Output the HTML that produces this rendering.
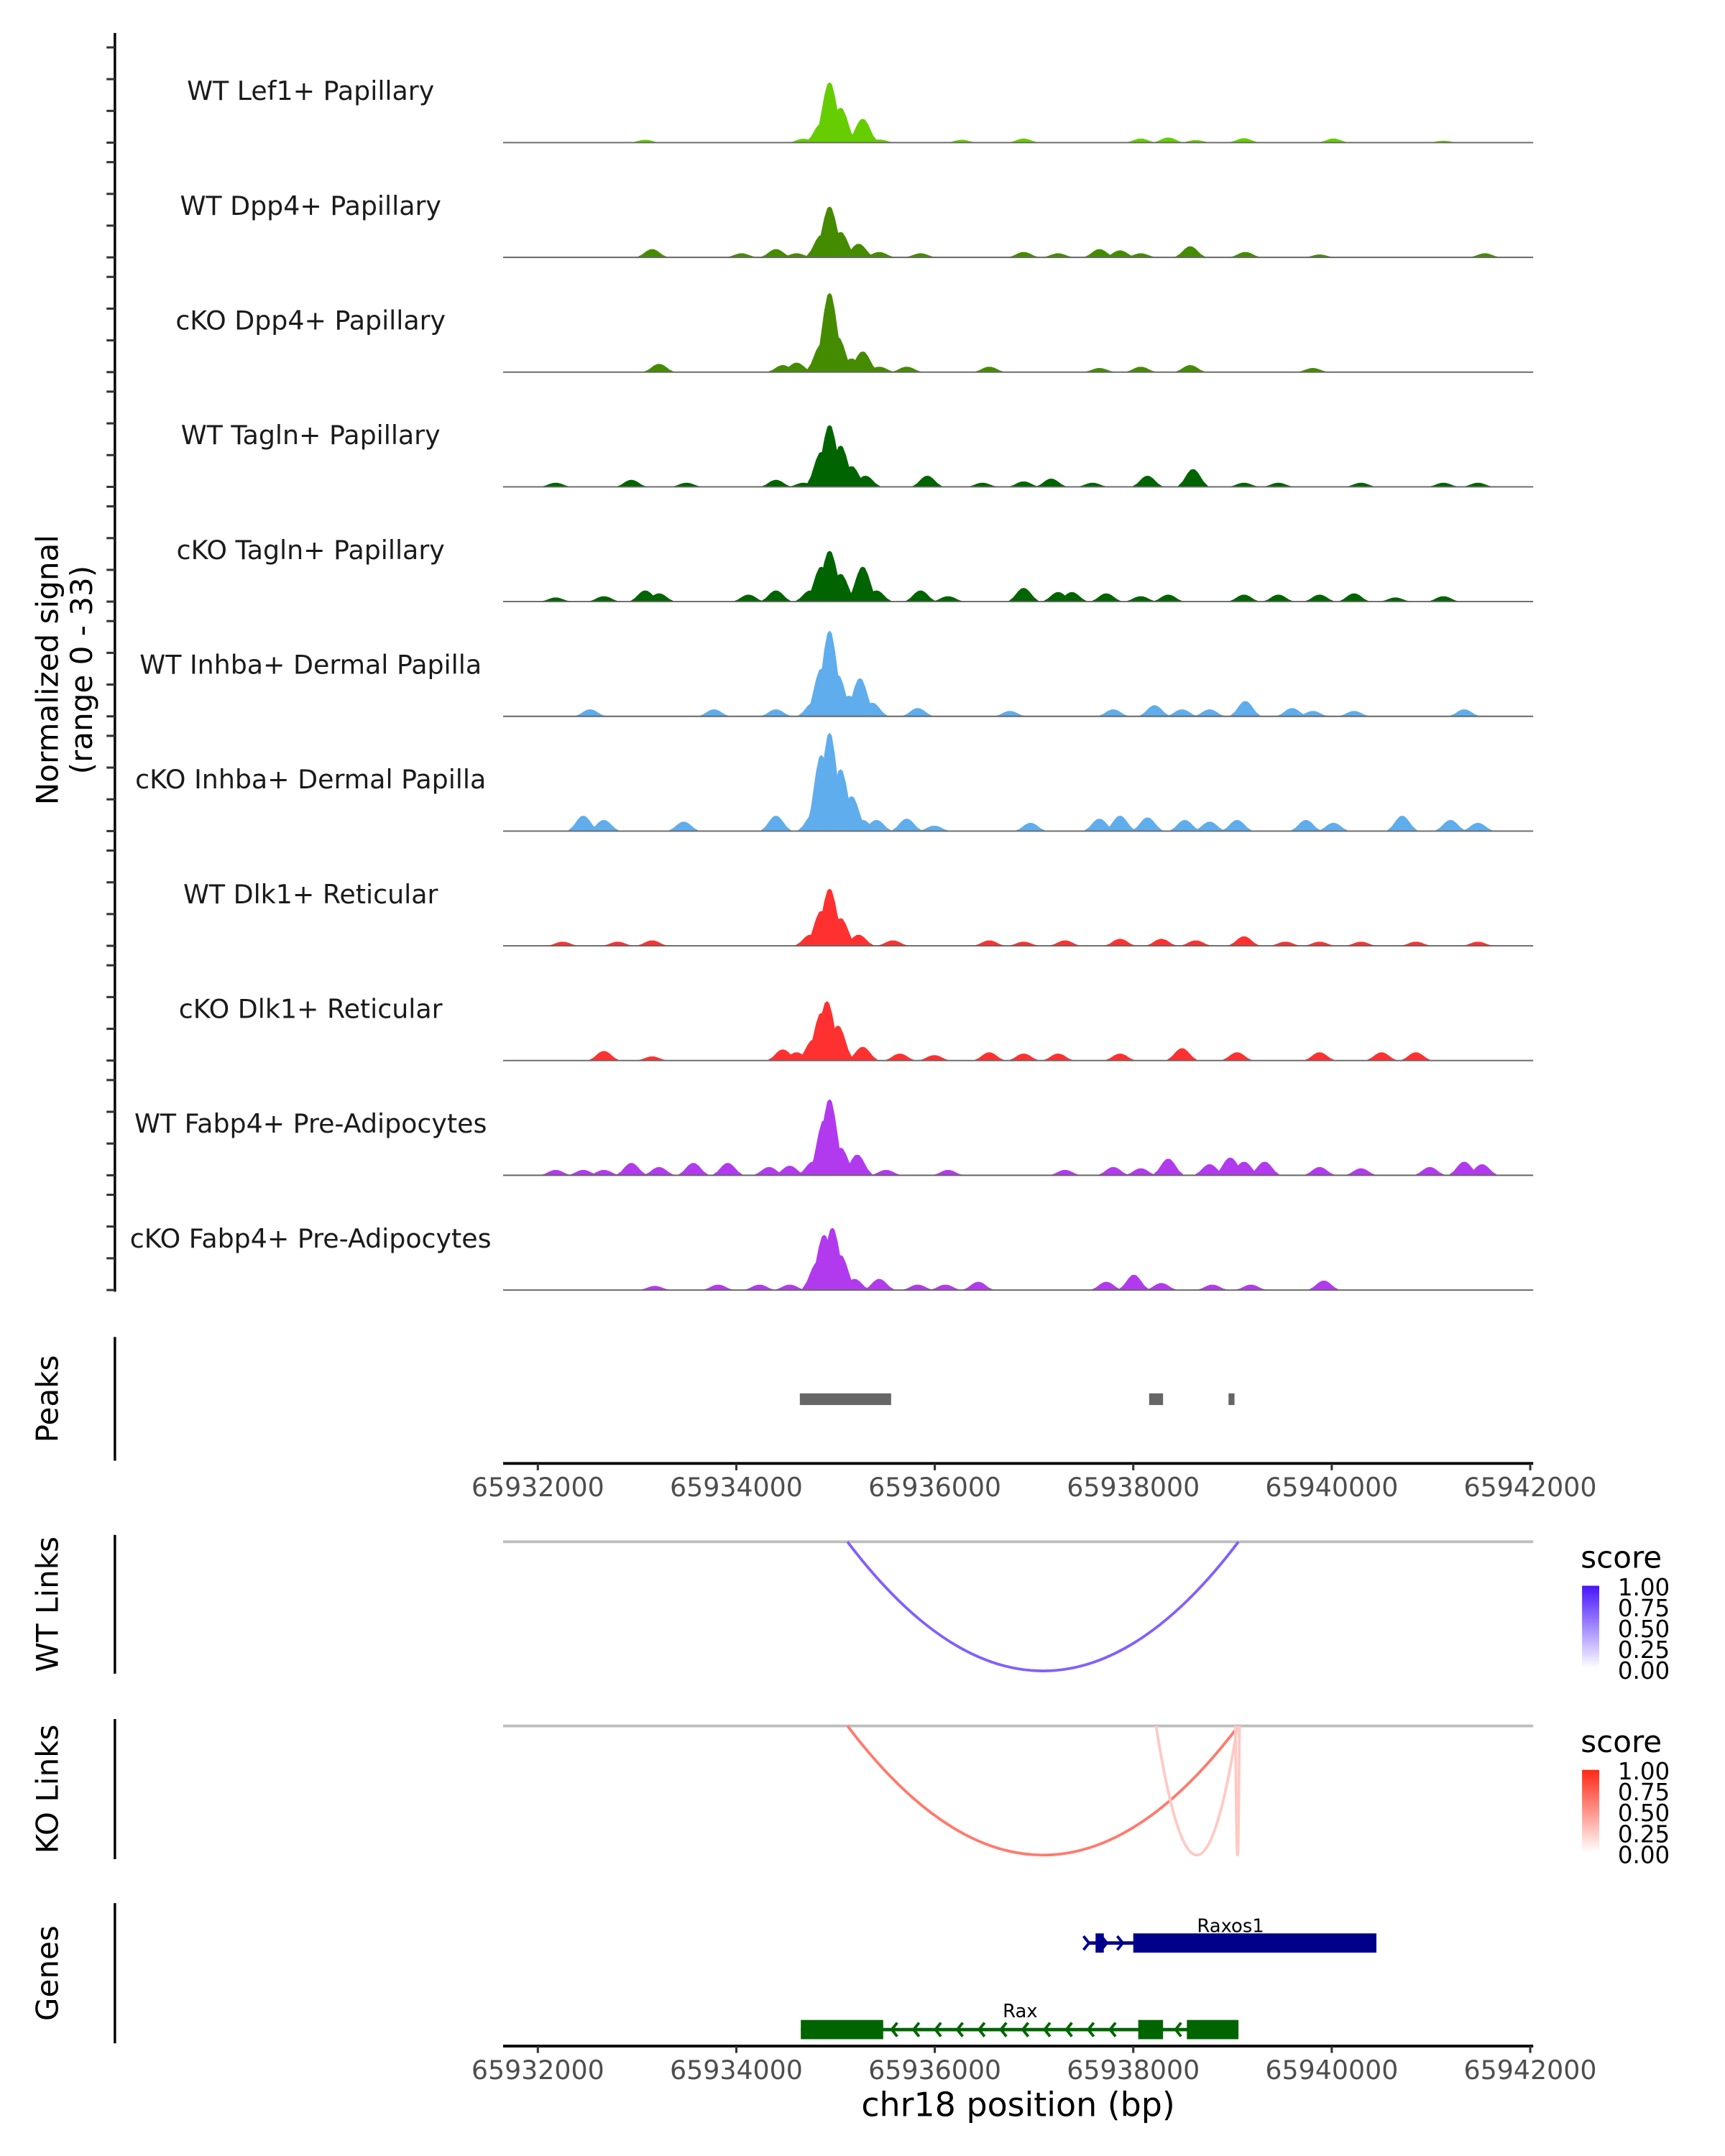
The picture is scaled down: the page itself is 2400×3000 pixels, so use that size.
<!DOCTYPE html>
<html><head><meta charset="utf-8">
<style>
html,body{margin:0;padding:0;background:#fff;}
svg{display:block;}
text{font-family:"DejaVu Sans","Liberation Sans",sans-serif;}
</style></head>
<body>
<svg id="chart" xmlns="http://www.w3.org/2000/svg" width="2400" height="3000" viewBox="0 0 1255 1569" preserveAspectRatio="none">
</svg>
<script>
// ---- data ----
const regionStart = 65931650, regionEnd = 65942030;
const xTicks = [65932000, 65934000, 65936000, 65938000, 65940000, 65942000];
const trackNames = ["WT Lef1+ Papillary","WT Dpp4+ Papillary","cKO Dpp4+ Papillary","WT Tagln+ Papillary","cKO Tagln+ Papillary","WT Inhba+ Dermal Papilla","cKO Inhba+ Dermal Papilla","WT Dlk1+ Reticular","cKO Dlk1+ Reticular","WT Fabp4+ Pre-Adipocytes","cKO Fabp4+ Pre-Adipocytes"];
const signalTicks = [0, 10, 20, 30];
// bump centers: bp offset from 65932000; values: normalized signal
const lef1Pos = [1082,2677,2857,2940,3051,3273,3440,4272,4896,6075,6352,6630,7115,8017,9126];
const lef1Val = [0.9,1.2,6,19,11,7.5,1,0.9,1.3,1.3,1.6,0.8,1.4,1.3,0.6];
const wtDpp4Pos = [1151,2053,2400,2608,2857,2940,3051,3232,3440,3856,4896,5243,5659,5867,6075,6574,7129,7878,9543];
const wtDpp4Val = [2.6,1.3,2.6,1.3,7,16,8,4.3,1.7,1.3,1.7,1.3,2.6,2.2,1.3,3.5,1.7,0.9,1.3];
const koDpp4Pos = [1221,2469,2608,2857,2940,3024,3162,3273,3440,3717,4549,5659,6075,6574,7809];
const koDpp4Val = [2.6,2.2,3,8.7,25,11,4.3,6.5,1.7,1.7,1.7,1.3,1.7,2.2,1.3];
const wtTaglnPos = [180,943,1498,2400,2677,2857,2940,3051,3162,3301,3925,4480,4896,5173,5590,6144,6602,7115,7462,8294,9126,9473];
const wtTaglnVal = [1.3,2.2,1.3,2.2,1.3,11,19.5,13,6.5,3.5,3.5,1.3,1.7,2.6,1.3,3.5,5.6,1.3,1.3,1.3,1.3,1.3];
const koTaglnPos = [180,666,1082,1221,2122,2400,2746,2857,2940,3051,3273,3412,3856,4133,4896,5243,5382,5728,6075,6352,7115,7462,7878,8225,8641,9126];
const koTaglnVal = [1.3,1.7,3.5,2.6,2.2,3.5,3.5,11,16,8.7,11,3.5,3.5,1.7,4.3,3,3,2.6,1.7,2.2,2.2,2.2,2.2,2.6,1.3,1.7];
const wtInhbaPos = [527,1775,2400,2774,2857,2940,3024,3135,3246,3370,3828,4757,5798,6214,6491,6769,7129,7601,7809,8225,9335];
const wtInhbaVal = [2.2,2.2,2.2,4.3,15,27,13,6.5,12,4.3,2.6,1.7,2.2,3.5,2.2,2.2,4.8,2.6,1.7,1.7,2.2];
const koInhbaPos = [458,666,1470,2400,2774,2857,2940,3051,3162,3273,3412,3717,3995,4965,5659,5867,6144,6519,6769,7046,7740,8017,8710,9196,9473];
const koInhbaVal = [4.8,3.5,3,4.8,5.2,24,31,19.5,11,3.5,3.5,3.9,1.7,2.6,3.9,4.8,4.3,3.5,3,3.5,3.5,2.6,4.8,3.5,2.6];
const wtDlk1Pos = [250,805,1151,2746,2857,2940,3051,3232,3578,4549,4896,5312,5867,6283,6630,7115,7532,7878,8294,8849,9473];
const wtDlk1Val = [1.3,1.3,1.7,3.5,11,18,8.7,3.5,1.7,1.7,1.3,1.7,2.2,2.2,1.7,3,1.3,1.3,1.3,1.3,1.3];
const koDlk1Pos = [666,1151,2469,2608,2774,2857,2913,3024,3273,3648,3995,4549,4896,5243,5867,6491,7046,7878,8502,8849];
const koDlk1Val = [3,1.3,3.5,2.6,6.5,15,18.7,11,4.3,2.2,1.7,2.6,2.2,2.2,2.2,3.9,2.6,2.6,2.6,2.6];
const wtFabp4Pos = [180,458,666,943,1221,1567,1914,2330,2538,2774,2885,2940,3051,3218,3509,4133,5312,5798,6075,6352,6769,6977,7115,7323,7878,8294,8988,9335,9515];
const wtFabp4Val = [1.7,1.7,1.7,3.9,2.6,3.9,3.9,2.6,3,4.3,17.4,24,8.7,6.5,1.7,1.7,1.7,2.6,2.2,5.2,3.5,5.6,4.3,4.3,2.6,2.2,2.6,4.3,3.5];
const koFabp4Pos = [1179,1817,2233,2538,2816,2885,2968,3051,3190,3440,3828,4106,4438,5728,6006,6283,6797,7185,7920];
const koFabp4Val = [1.3,1.7,1.7,1.7,8.7,17.4,19.6,11,3.5,3.5,1.7,1.7,2.6,2.6,4.8,2.2,1.7,1.7,3];
const peakStarts = [65934640, 65938160, 65938960];
const peakEnds = [65935560, 65938300, 65939020];
const wtLinkStart = [65935120], wtLinkEnd = [65939060], wtLinkScore = [0.68];
const koLinkStart = [65935120, 65938230, 65939030], koLinkEnd = [65939060, 65939050, 65939070], koLinkScore = [0.62, 0.25, 0.25];
const legendTicks = ["1.00","0.75","0.50","0.25","0.00"];

// ---- scales / layout ----
const X0 = 391.3, PXBP = 0.0722;
function xs(bp){ return X0 + (bp - 65932000) * PXBP; }
const trackLeft = xs(regionStart), trackRight = xs(regionEnd);
const baselines = [103.8,187.3,270.8,354.3,437.8,521.3,604.8,688.3,771.8,855.3,938.8];
const PXV = 2.31;
function ys(base, v){ return base - v * PXV; }

const svg = document.getElementById('chart');
const NS = 'http://www.w3.org/2000/svg';
function mk(tag, attrs, parent){ const e = document.createElementNS(NS, tag); for (const k in attrs) e.setAttribute(k, attrs[k]); (parent||svg).appendChild(e); return e; }

const tracks = [
 [lef1Pos, lef1Val, '#66CD00'], [wtDpp4Pos, wtDpp4Val, '#458B00'], [koDpp4Pos, koDpp4Val, '#458B00'],
 [wtTaglnPos, wtTaglnVal, '#006400'], [koTaglnPos, koTaglnVal, '#006400'],
 [wtInhbaPos, wtInhbaVal, '#5FADEC'], [koInhbaPos, koInhbaVal, '#5FADEC'],
 [wtDlk1Pos, wtDlk1Val, '#FF3030'], [koDlk1Pos, koDlk1Val, '#FF3030'],
 [wtFabp4Pos, wtFabp4Val, '#B23AEE'], [koFabp4Pos, koFabp4Val, '#B23AEE']
];
const BW = 320;

const ax = mk('line', {x1:83.6, y1:24, x2:83.6, y2:940, stroke:'#000', 'stroke-width':1.8});


const yt = mk('text', {transform:'translate(42,487.5) rotate(-90)', 'text-anchor':'middle', 'font-size':22, fill:'#000'});


yt.textContent = 'Normalized signal';
const yt2 = mk('text', {transform:'translate(67,487.5) rotate(-90)', 'text-anchor':'middle', 'font-size':22, fill:'#000'});


yt2.textContent = '(range 0 - 33)';

tracks.forEach((t, i) => {
  const base = baselines[i];
  const g = mk('g', {});
  
  
  signalTicks.forEach(v => {
    const tk = mk('line', {x1:77.5, x2:83.6, y1:ys(base, v), y2:ys(base, v), stroke:'#333', 'stroke-width':1.6}, g);
    
    
  });
  const lb = mk('text', {x:226, y:base-31, 'text-anchor':'middle', 'font-size':19, fill:'#1a1a1a'}, g);
  
  
  lb.textContent = trackNames[i];
  const [pos, val, col] = t;
  pos.forEach((p, j) => {
    const c = 65932000 + p, v = val[j];
    const pts = [[c-BW/2,0],[c-BW/3,v*0.3],[c-BW/6,v*0.78],[c-BW/14,v*0.97],[c,v],[c+BW/14,v*0.97],[c+BW/6,v*0.78],[c+BW/3,v*0.3],[c+BW/2,0]]
      .map(q => xs(q[0]).toFixed(1)+','+ys(base,q[1]).toFixed(1)).join(' ');
    const bump = mk('polygon', {points:pts, fill:col}, g);
    
    
  });
  const bl = mk('line', {x1:trackLeft, x2:trackRight, y1:base, y2:base, stroke:'#666', 'stroke-width':1}, g);
  
  
});

function panelAxis(y1, y2, label, name){
  const l = mk('line', {x1:83.6, x2:83.6, y1:y1, y2:y2, stroke:'#000', 'stroke-width':1.8});
  
  
  const t = mk('text', {transform:'translate(42,'+((y1+y2)/2)+') rotate(-90)', 'text-anchor':'middle', 'font-size':22, fill:'#000'});
  
  
  t.textContent = label;
}
function xAxis(y, name){
  const g = mk('g', {});
  
  
  mk('line', {x1:trackLeft, x2:trackRight, y1:y, y2:y, stroke:'#000', 'stroke-width':2}, g);
  xTicks.forEach(tv => {
    const tk = mk('line', {x1:xs(tv), x2:xs(tv), y1:y, y2:y+5, stroke:'#333', 'stroke-width':1.6}, g);
    
    
    const tl = mk('text', {x:xs(tv), y:y+24, 'text-anchor':'middle', 'font-size':19, fill:'#4d4d4d'}, g);
    
    
    tl.textContent = String(tv);
  });
}

// peaks
panelAxis(973, 1063, 'Peaks', 'peaks');
peakStarts.forEach((s, i) => {
  const r = mk('rect', {x:xs(s), y:1014, width:xs(peakEnds[i])-xs(s), height:8.5, fill:'#666'});
  
  
});
xAxis(1065, 'x-axis-peaks');

function lerpColor(c, s){ return 'rgb(' + c.map(v => Math.round(255 + (v-255)*s)).join(',') + ')'; }
function linkPanel(y1, y2, topY, bottomY, starts, ends, scores, rgb, name){
  panelAxis(y1, y2, name === 'wt-links' ? 'WT Links' : 'KO Links', name);
  const gl = mk('line', {x1:trackLeft, x2:trackRight, y1:topY, y2:topY, stroke:'#bebebe', 'stroke-width':2});
  
  
  starts.forEach((s, i) => {
    const a = xs(s), b = xs(ends[i]), d = bottomY - topY;
    const p = mk('path', {d:'M'+a+','+topY+' Q'+((a+b)/2)+','+(topY+2*d)+' '+b+','+topY, fill:'none', stroke:lerpColor(rgb, scores[i]), 'stroke-width':2});
    
    
  });
  const lx = 1163, ly = topY + 6;
  const gid = name + '-grad';
  const defs = mk('defs', {});
  const lg = mk('linearGradient', {id:gid, x1:0, y1:1, x2:0, y2:0}, defs);
  mk('stop', {offset:0, 'stop-color':'#fff'}, lg);
  mk('stop', {offset:1, 'stop-color':'rgb('+rgb.join(',')+')'}, lg);
  const lt = mk('text', {x:lx-13, y:ly+13, 'font-size':22, fill:'#000'});
  
  
  lt.textContent = 'score';
  const bar = mk('rect', {x:lx-12, y:ly+26, width:12.5, height:60, fill:'url(#'+gid+')'});
  
  
  legendTicks.forEach((s, k) => {
    const t = mk('text', {x:lx+14, y:ly+33+k*15.2, 'font-size':17, fill:'#000'});
    
    
    t.textContent = s;
  });
}
linkPanel(1117, 1218, 1122, 1216, wtLinkStart, wtLinkEnd, wtLinkScore, [70,20,255], 'wt-links');
linkPanel(1251, 1353, 1256, 1350, koLinkStart, koLinkEnd, koLinkScore, [255,40,20], 'ko-links');

// genes
panelAxis(1385, 1487, 'Genes', 'genes');
const gg = mk('g', {});


const GY1 = 1414, GY2 = 1477;
mk('line', {x1:xs(65937550), x2:xs(65940450), y1:GY1, y2:GY1, stroke:'#00008B', 'stroke-width':2.5}, gg);
const rb1 = mk('rect', {x:xs(65937620), y:GY1-7, width:6, height:14, fill:'#00008B'}, gg);


const rb2 = mk('rect', {x:xs(65938000), y:GY1-7, width:xs(65940450)-xs(65938000), height:14, fill:'#00008B'}, gg);


[65937540, 65937720, 65937880].forEach(p => mk('polyline', {points:(xs(p)-3)+','+(GY1-5)+' '+(xs(p)+1)+','+GY1+' '+(xs(p)-3)+','+(GY1+5), fill:'none', stroke:'#00008B', 'stroke-width':2}, gg));
const rl = mk('text', {x:xs(65938980), y:GY1-8, 'text-anchor':'middle', 'font-size':13.5, fill:'#000'}, gg);


rl.textContent = 'Raxos1';
mk('line', {x1:xs(65934650), x2:xs(65939060), y1:GY2, y2:GY2, stroke:'#006400', 'stroke-width':2.5}, gg);
[[65934650,65935480],[65938050,65938300],[65938540,65939060]].forEach(e => {
  const r = mk('rect', {x:xs(e[0]), y:GY2-7, width:xs(e[1])-xs(e[0]), height:14, fill:'#006400'}, gg);
  
  
});
[65935580,65935800,65936020,65936240,65936460,65936680,65936900,65937120,65937340,65937560,65937780,65938440].forEach(p => mk('polyline', {points:(xs(p)+3)+','+(GY2-5)+' '+(xs(p)-1)+','+GY2+' '+(xs(p)+3)+','+(GY2+5), fill:'none', stroke:'#006400', 'stroke-width':2}, gg));
const rx = mk('text', {x:xs(65936860), y:GY2-9, 'text-anchor':'middle', 'font-size':13.5, fill:'#000'}, gg);


rx.textContent = 'Rax';
xAxis(1489, 'x-axis-bottom');
const xt = mk('text', {x:(trackLeft+trackRight)/2, y:1540, 'text-anchor':'middle', 'font-size':24, fill:'#000'});


xt.textContent = 'chr18 position (bp)';
</script>
</body></html>
